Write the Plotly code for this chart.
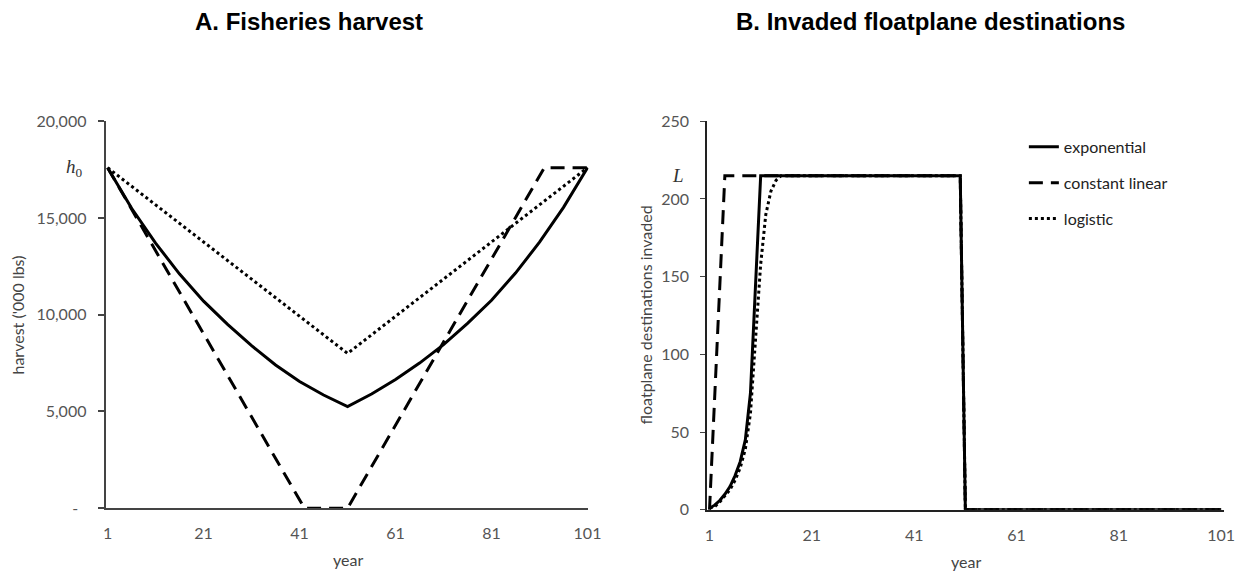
import plotly.graph_objects as go

W, H = 1260, 582

# ---------------- Panel A: Fisheries harvest ('000 lbs) ----------------
years_a_exp = [1, 6, 11, 16, 21, 26, 31, 36, 41, 46, 51,
               56, 61, 66, 71, 76, 81, 86, 91, 96, 101]
harvest_exp = [17600, 15500, 13700, 12100, 10700, 9500, 8400, 7400, 6550, 5850, 5250,
               5900, 6650, 7500, 8450, 9550, 10750, 12150, 13750, 15550, 17600]
years_a_lin = [1, 42, 51, 92, 101]
harvest_lin = [17600, 0, 0, 17600, 17600]
years_a_log = [1, 51, 101]
harvest_log = [17600, 8000, 17600]
h0 = 17600

# ---------------- Panel B: Invaded floatplane destinations ----------------
years_b_exp = [1, 2, 3, 4, 5, 6, 7, 8, 9, 10, 11, 50, 51, 101]
invaded_exp = [1, 3, 6, 10, 15, 22, 31, 45, 75, 150, 215, 215, 0, 0]
years_b_lin = [1, 2, 3, 4, 50, 51, 101]
invaded_lin = [0, 72, 143, 215, 215, 0, 0]
years_b_log = [1, 2, 3, 4, 5, 6, 7, 8, 9, 10, 11, 12, 13, 14, 15, 50, 51, 101]
invaded_log = [1, 2, 5, 9, 13, 19, 27, 39, 62, 110, 158, 190, 205, 212, 215, 215, 0, 0]
L_val = 215

x_ticks = [1, 21, 41, 61, 81, 101]
ya_ticks = [0, 5000, 10000, 15000, 20000]
ya_ticktext = ["-\u00a0\u00a0", "5,000", "10,000", "15,000", "20,000"]
yb_ticks = [0, 50, 100, 150, 200, 250]

series_names = ["exponential", "constant linear", "logistic"]


def px(x):
    return x / W


def py(y):
    return 1 - y / H


TICKFONT = dict(family="Lato, Open Sans, sans-serif", size=16, color="#555555")
LW = 3
DASH = "14px,8px"
DOT = "3px,3px"

fig = go.Figure()

# Panel A traces
fig.add_trace(go.Scatter(x=years_a_exp, y=harvest_exp, mode="lines", xaxis="x", yaxis="y",
                         line=dict(color="black", width=LW), showlegend=False, hoverinfo="skip"))
fig.add_trace(go.Scatter(x=years_a_lin, y=harvest_lin, mode="lines", xaxis="x", yaxis="y",
                         line=dict(color="black", width=LW, dash=DASH), showlegend=False, hoverinfo="skip"))
fig.add_trace(go.Scatter(x=years_a_log, y=harvest_log, mode="lines", xaxis="x", yaxis="y",
                         line=dict(color="black", width=LW, dash=DOT), showlegend=False, hoverinfo="skip"))

# Panel B traces
fig.add_trace(go.Scatter(x=years_b_log, y=invaded_log, mode="lines", xaxis="x2", yaxis="y2",
                         name=series_names[2], legendgroup="c", legendrank=3,
                         line=dict(color="black", width=LW, dash=DOT)))
fig.add_trace(go.Scatter(x=years_b_lin, y=invaded_lin, mode="lines", xaxis="x2", yaxis="y2",
                         name=series_names[1], legendgroup="b", legendrank=2,
                         line=dict(color="black", width=LW, dash=DASH)))
fig.add_trace(go.Scatter(x=years_b_exp, y=invaded_exp, mode="lines", xaxis="x2", yaxis="y2",
                         name=series_names[0], legendgroup="a", legendrank=1,
                         line=dict(color="black", width=LW)))

common_x = dict(tickvals=x_ticks, ticks="", showgrid=False, zeroline=False, showline=True,
                tickfont=TICKFONT, ticklabelstandoff=10, fixedrange=True)

fig.update_layout(
    width=W, height=H,
    margin=dict(l=0, r=0, t=0, b=0),
    paper_bgcolor="white", plot_bgcolor="white",
    xaxis=dict(domain=[px(104), px(593)], range=[0.6, 101.2], anchor="y",
               linecolor="#444444", linewidth=2, **common_x),
    yaxis=dict(domain=[py(515), py(115)], range=[0, 20000], anchor="x",
               tickvals=ya_ticks, ticktext=ya_ticktext, ticks="outside", ticklen=6,
               tickcolor="#444444", tickwidth=1.5, showline=True, linecolor="#444444", linewidth=2,
               showgrid=False, zeroline=False, tickfont=TICKFONT, ticklabelstandoff=8),
    xaxis2=dict(domain=[px(713), px(1237)], range=[0.5, 101.6], anchor="y2",
                linecolor="#222222", linewidth=1.5, **common_x),
    yaxis2=dict(domain=[py(516.7), py(115)], range=[0, 250], anchor="x2",
                tickvals=yb_ticks, ticks="outside", ticklen=5, tickcolor="#444444", tickwidth=1,
                showline=True, linecolor="#222222", linewidth=1.5,
                showgrid=False, zeroline=False, tickfont=TICKFONT, ticklabelstandoff=8),
    legend=dict(x=px(1034), y=py(124), xanchor="left", yanchor="top",
                font=dict(family="Lato, Open Sans, sans-serif", size=16, color="#222222"),
                bgcolor="rgba(0,0,0,0)", traceorder="grouped", tracegroupgap=12,
                itemwidth=30),
    showlegend=True,
)

TITLE_FONT = dict(family="Liberation Sans, Arial, sans-serif", size=24, color="black")
LABEL_FONT = dict(family="Lato, Open Sans, sans-serif", size=16, color="#444444")
SERIF = dict(family="Liberation Serif, DejaVu Serif, serif", size=19, color="#333333")

annotations = [
    dict(text="<b>A. Fisheries harvest</b>", x=px(310), y=py(12), font=TITLE_FONT),
    dict(text="<b>B. Invaded floatplane destinations</b>", x=px(939), y=py(12), font=TITLE_FONT),
    dict(text="harvest ('000 lbs)", x=px(15), y=py(315), textangle=-90, font=LABEL_FONT),
    dict(text="floatplane destinations invaded", x=px(651), y=py(315), textangle=-90, font=LABEL_FONT),
    dict(text="year", x=px(349), y=py(568), font=LABEL_FONT),
    dict(text="year", x=px(975), y=py(570), font=LABEL_FONT),
    dict(text="<i>h</i><sub>0</sub>", x=px(83), y=py(163), xanchor="right", font=SERIF),
    dict(text="<i>L</i>", x=px(692), y=py(171), xanchor="right", font=SERIF),
]
for a in annotations:
    a.setdefault("xanchor", "center")
    fig.add_annotation(xref="paper", yref="paper", showarrow=False, yanchor="middle", **a)

fig.write_html("out.html")
